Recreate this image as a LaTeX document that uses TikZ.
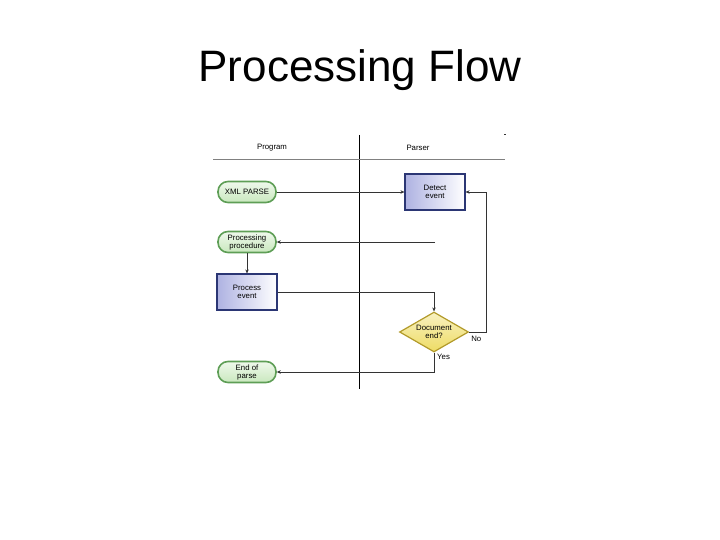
\documentclass[tikz,border=0pt]{standalone}
\usepackage{fontspec}
\setmainfont{Liberation Sans}
\usetikzlibrary{arrows.meta, positioning, shapes.geometric}

\definecolor{pillline}{HTML}{5E9E56}
\definecolor{pillfill}{HTML}{C9E8BE}
\definecolor{boxline}{HTML}{2B3674}
\definecolor{boxfill}{HTML}{AEB2E2}
\definecolor{diafill}{HTML}{EEDC64}
\definecolor{dialine}{HTML}{B29A2A}
\definecolor{flowline}{HTML}{333333}

\begin{document}
\begin{tikzpicture}[x=1pt, y=-1pt, >={Stealth[length=4pt, width=3.5pt]},
  every node/.style={font=\fontsize{7.8}{8}\selectfont, align=center, inner sep=1pt},
  pill/.style={draw=pillline, line width=1.6pt, rounded corners=10pt, top color=pillfill!30, bottom color=pillfill, minimum width=58pt, minimum height=21pt},
  stepbox/.style={draw=boxline, line width=1.2pt, left color=boxfill, right color=white, minimum width=60pt, minimum height=36pt},
  decision/.style={diamond, aspect=1.75, draw=dialine, line width=1.2pt, top color=diafill!40, bottom color=diafill, inner sep=0pt, minimum width=69pt, minimum height=40pt},
  flow/.style={draw=flowline, line width=0.6pt},
  lane/.style={draw=black, line width=0.8pt}]
\useasboundingbox (0,0) rectangle (720,540);

% title
\node[anchor=base, font=\fontsize{44}{50}\selectfont] (title) at (360,82) {Processing Flow};

% swim lanes
\draw[lane] (359,135) -- (359,389);
\draw[flow, gray] (213,159) -- (505,159);
\draw[flow] (504,134) -- (506,134);
\node (program) at (272,148) {Program};
\node (parser) at (418,148) {Parser};

% program lane
\node[pill] (xmlparse) at (247,192) {XML PARSE};
\node[pill] (procproc) at (247,242) {Processing\\procedure};
\node[stepbox] (procevent) at (247,292) {Process\\event};
\node[pill] (endparse) at (247,372) {End of\\parse};

% parser lane
\node[stepbox] (detect) at (435,192) {Detect\\event};
\node[decision] (docend) at (434,332) {Document\\end?};
\node[right=1pt of docend.east, yshift=-7pt] (no) {No};
\node[below right=0pt and 2pt of docend.south] (yes) {Yes};
\coordinate (callback) at (435,242);

% connectors
\draw[flow, ->] (xmlparse) -- (detect);
\draw[flow, ->] (callback) -- (procproc);
\draw[flow, ->] (procproc) -- (procevent);
\draw[flow, ->] (procevent) -| (docend);
\draw[flow, ->] (docend.east) -- ++(17,0) |- (detect);
\draw[flow, ->] (docend.south) |- (endparse);
\end{tikzpicture}
\end{document}
